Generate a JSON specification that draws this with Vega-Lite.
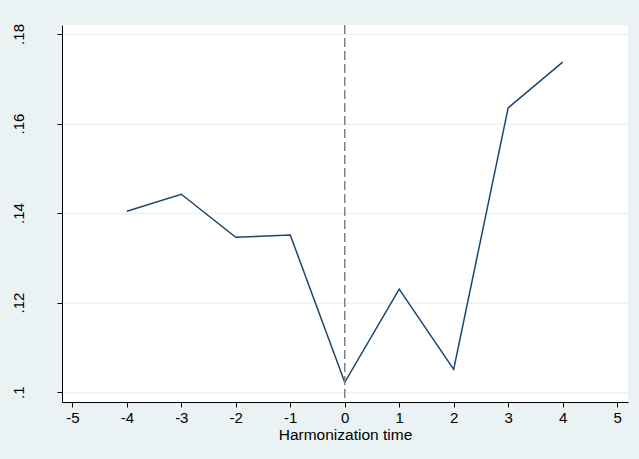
{
  "$schema": "https://vega.github.io/schema/vega-lite/v6.json",
  "width": 566,
  "height": 377,
  "autosize": "none",
  "padding": {"left": 62, "top": 25, "right": 11, "bottom": 57},
  "background": "#EAF2F3",
  "config": {
    "view": {"fill": "white", "stroke": null},
    "font": "Liberation Sans",
    "axis": {"labelFont": "Liberation Sans", "titleFont": "Liberation Sans", "labelColor": "#000", "titleColor": "#000", "titleFontWeight": "normal"}
  },
  "datasets": {
    "series": [
      {"t": -4, "v": 0.1404},
      {"t": -3, "v": 0.1442},
      {"t": -2, "v": 0.1346},
      {"t": -1, "v": 0.1351},
      {"t": 0, "v": 0.1022},
      {"t": 1, "v": 0.1230},
      {"t": 2, "v": 0.1051},
      {"t": 3, "v": 0.1635},
      {"t": 4, "v": 0.1737}
    ],
    "ref": [{"t": 0}]
  },
  "layer": [
    {
      "data": {"name": "series"},
      "mark": {"type": "line", "color": "#1A476F", "strokeWidth": 1.5},
      "encoding": {
        "x": {
          "field": "t", "type": "quantitative",
          "scale": {"domain": [-5.19, 5.2], "nice": false, "zero": false},
          "axis": {
            "values": [-5, -4, -3, -2, -1, 0, 1, 2, 3, 4, 5],
            "labelExpr": "toString(datum.value)",
            "title": "Harmonization time", "titleFontSize": 15.5, "labelFontSize": 15,
            "grid": false, "domainColor": "#000", "tickColor": "#000", "tickSize": 5,
            "labelPadding": 3, "titlePadding": 2
          }
        },
        "y": {
          "field": "v", "type": "quantitative",
          "scale": {"domain": [0.0978, 0.182], "nice": false, "zero": false},
          "axis": {
            "values": [0.1, 0.12, 0.14, 0.16, 0.18],
            "labelExpr": "substring(format(datum.value, '~g'), 1)",
            "title": null, "labelAngle": -90, "labelFontSize": 15,
            "labelPadding": 31,
            "grid": true, "gridColor": "#EAF2F3", "gridWidth": 1.5,
            "domainColor": "#000", "tickColor": "#000", "tickSize": 5
          }
        }
      }
    },
    {
      "data": {"name": "ref"},
      "mark": {"type": "rule", "color": "#808080", "strokeWidth": 1.5, "strokeDash": [9, 4]},
      "encoding": {"x": {"field": "t", "type": "quantitative"}}
    }
  ]
}
